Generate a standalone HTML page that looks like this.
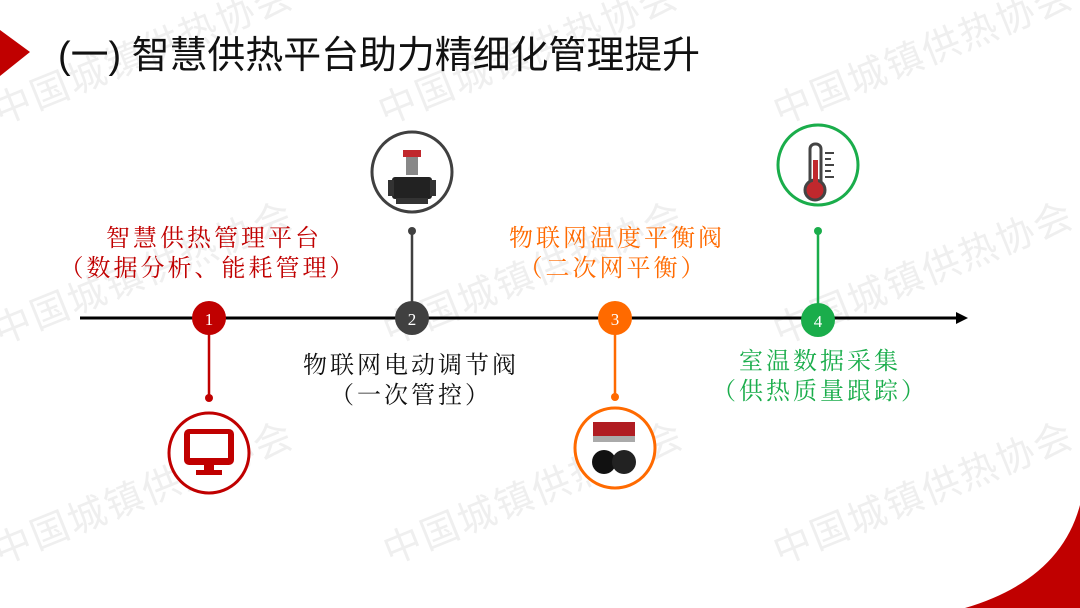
<!DOCTYPE html>
<html><head><meta charset="utf-8"><style>
html,body{margin:0;padding:0;background:#fff;}
svg{display:block}
.t{font-family:"Liberation Serif","Noto Serif CJK SC",serif;font-size:24px;letter-spacing:3px;text-anchor:middle}
.wm{font-family:"Liberation Sans","Noto Sans CJK SC",sans-serif;font-size:38px;fill:#efefef;letter-spacing:2px}
</style></head><body>
<svg width="1080" height="608" viewBox="0 0 1080 608" xmlns="http://www.w3.org/2000/svg">
<g class="wm">
<text x="0" y="125" transform="rotate(-22 0 125)">中国城镇供热协会</text>
<text x="385" y="125" transform="rotate(-22 385 125)">中国城镇供热协会</text>
<text x="780" y="125" transform="rotate(-22 780 125)">中国城镇供热协会</text>
<text x="0" y="345" transform="rotate(-22 0 345)">中国城镇供热协会</text>
<text x="390" y="345" transform="rotate(-22 390 345)">中国城镇供热协会</text>
<text x="780" y="345" transform="rotate(-22 780 345)">中国城镇供热协会</text>
<text x="0" y="565" transform="rotate(-22 0 565)">中国城镇供热协会</text>
<text x="390" y="565" transform="rotate(-22 390 565)">中国城镇供热协会</text>
<text x="780" y="565" transform="rotate(-22 780 565)">中国城镇供热协会</text>
</g>
<polygon points="0,30 30,52 0,76" fill="#c00000"/>
<path d="M965,608 Q1060,580 1080,505 L1080,608 Z" fill="#c00000"/>
<text x="58" y="68" font-family="Liberation Sans,'Noto Sans CJK SC',sans-serif" font-size="38" fill="#111" textLength="642" lengthAdjust="spacingAndGlyphs">(一) 智慧供热平台助力精细化管理提升</text>

<line x1="80" y1="318" x2="958" y2="318" stroke="#000" stroke-width="3"/>
<polygon points="968,318 956,312 956,324" fill="#000"/>

<!-- 1 -->
<line x1="209" y1="318" x2="209" y2="398" stroke="#c00000" stroke-width="2.5"/>
<circle cx="209" cy="398" r="4" fill="#c00000"/>
<circle cx="209" cy="318" r="17" fill="#c00000"/>
<text x="209" y="325" fill="#fff" font-family="Liberation Serif,serif" font-size="17" text-anchor="middle">1</text>
<circle cx="209" cy="453" r="40" fill="#fff" stroke="#c00000" stroke-width="3"/>
<rect x="184" y="429" width="50" height="36" rx="5" fill="#c00000"/>
<rect x="190" y="434" width="38" height="24" fill="#fff"/>
<rect x="204" y="465" width="10" height="6" fill="#c00000"/>
<rect x="196" y="470" width="26" height="5" fill="#c00000"/>
<text class="t" x="214" y="246" fill="#c00000">智慧供热管理平台</text>
<text class="t" x="208" y="276" fill="#c00000">（数据分析、能耗管理）</text>

<!-- 2 -->
<line x1="412" y1="231" x2="412" y2="318" stroke="#404040" stroke-width="2.5"/>
<circle cx="412" cy="231" r="4" fill="#404040"/>
<circle cx="412" cy="318" r="17" fill="#404040"/>
<text x="412" y="325" fill="#fff" font-family="Liberation Serif,serif" font-size="17" text-anchor="middle">2</text>
<circle cx="412" cy="172" r="40" fill="#fff" stroke="#404040" stroke-width="3"/>
<rect x="403" y="150" width="18" height="7" fill="#c0282d"/>
<rect x="406" y="157" width="12" height="18" fill="#888"/>
<rect x="392" y="177" width="40" height="22" rx="3" fill="#222"/>
<rect x="388" y="180" width="6" height="16" fill="#333"/>
<rect x="430" y="180" width="6" height="16" fill="#333"/>
<rect x="396" y="198" width="32" height="6" fill="#333"/>
<text class="t" x="411" y="373" fill="#111">物联网电动调节阀</text>
<text class="t" x="411" y="403" fill="#111">（一次管控）</text>

<!-- 3 -->
<line x1="615" y1="318" x2="615" y2="397" stroke="#ff6a00" stroke-width="2.5"/>
<circle cx="615" cy="397" r="4" fill="#ff6a00"/>
<circle cx="615" cy="318" r="17" fill="#ff6a00"/>
<text x="615" y="325" fill="#fff" font-family="Liberation Serif,serif" font-size="17" text-anchor="middle">3</text>
<circle cx="615" cy="448" r="40" fill="#fff" stroke="#ff6a00" stroke-width="3"/>
<rect x="593" y="422" width="42" height="18" fill="#b01c22"/>
<rect x="593" y="436" width="42" height="6" fill="#aaa"/>
<circle cx="604" cy="462" r="12" fill="#111"/>
<circle cx="624" cy="462" r="12" fill="#222"/>
<text class="t" x="617" y="246" fill="#ff6a00">物联网温度平衡阀</text>
<text class="t" x="613" y="276" fill="#ff6a00">（二次网平衡）</text>

<!-- 4 -->
<line x1="818" y1="231" x2="818" y2="320" stroke="#1aad4b" stroke-width="2.5"/>
<circle cx="818" cy="231" r="4" fill="#1aad4b"/>
<circle cx="818" cy="320" r="17" fill="#1aad4b"/>
<text x="818" y="327" fill="#fff" font-family="Liberation Serif,serif" font-size="17" text-anchor="middle">4</text>
<circle cx="818" cy="165" r="40" fill="#fff" stroke="#1aad4b" stroke-width="3"/>
<rect x="810" y="144" width="11" height="44" rx="5" fill="#fff" stroke="#444" stroke-width="3"/>
<circle cx="815" cy="190" r="10" fill="#c0282d" stroke="#444" stroke-width="3"/>
<rect x="813" y="160" width="5" height="28" fill="#c0282d"/>
<g stroke="#444" stroke-width="2"><line x1="825" y1="153" x2="834" y2="153"/><line x1="825" y1="159" x2="831" y2="159"/><line x1="825" y1="165" x2="834" y2="165"/><line x1="825" y1="171" x2="831" y2="171"/><line x1="825" y1="177" x2="834" y2="177"/></g>
<text class="t" x="820" y="369" fill="#1aad4b">室温数据采集</text>
<text class="t" x="820" y="399" fill="#1aad4b">（供热质量跟踪）</text>
</svg>
</body></html>
